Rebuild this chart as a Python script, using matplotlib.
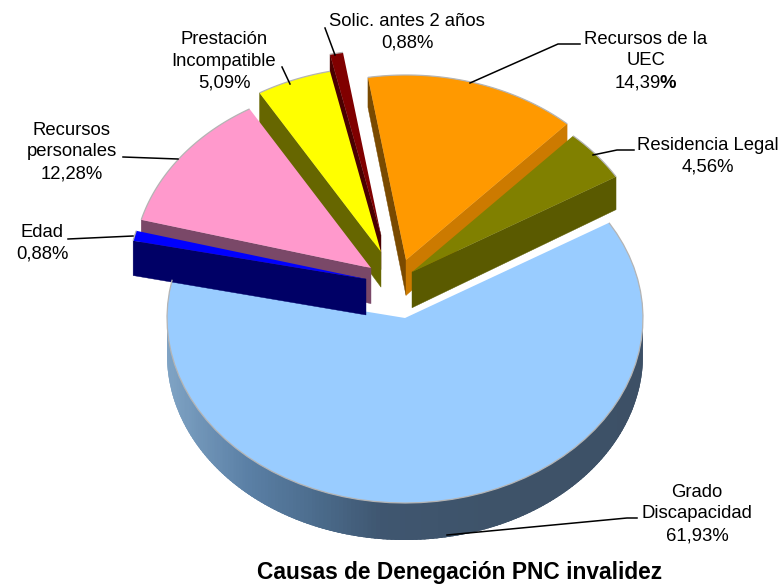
import numpy as np
import matplotlib
matplotlib.use('Agg')
import matplotlib.pyplot as plt
from matplotlib.colors import LinearSegmentedColormap

plt.rcParams['font.family'] = ['Liberation Sans', 'DejaVu Sans']

# data, clockwise from the top of the pie
names = ['Recursos de la\nUEC', 'Residencia Legal', 'Grado\nDiscapacidad', 'Edad',
         'Recursos\npersonales', 'Prestación\nIncompatible', 'Solic. antes 2 años']
values = [14.39, 4.56, 61.93, 0.88, 12.28, 5.09, 0.88]
value_labels = ['14,39', '4,56%', '61,93%', '0,88%', '12,28%', '5,09%', '0,88%']

# look of each slice
top_colors = ['#FF9900', '#808000', '#99CCFF', '#0000FF', '#FF99CC', '#FFFF00', '#800000']
start_face = ['#7A4A00', None, None, '#000066', '#7A4868', '#666600', '#4A0000']
end_face = ['#CC7A00', '#5A5A00', None, None, None, None, None]
apex_x = [406, 412, 405, 366, 371, 381, 381]
apex_y = [260, 272, 318, 279, 268, 252, 235]
draw_order = [2, 0, 1, 6, 5, 4, 3]

# label centres and leader lines
label_x = [646, 708, 697, 42, 72, 224, 407]
label_y = [60, 156, 514, 243, 152, 61, 32]
leaders = [([470, 558, 580], [83, 44, 44]),
           ([593, 617, 634], [155, 150, 150]),
           ([447, 627, 637], [535, 518, 518]),
           ([68, 133], [239, 236]),
           ([123, 178], [157, 159]),
           ([282, 290], [67, 84]),
           ([325, 335], [28, 55])]

start_angle = -9.2
rx, ry = 238, 185


def depth(y):
    # slices further back look a little thinner
    return np.minimum(37, 30 + (np.asarray(y) - 80) * 0.03)


def rim(i, a0, a1, n=60):
    t = np.radians(np.linspace(a0, a1, n))
    return apex_x[i] + rx * np.sin(t), apex_y[i] - ry * np.cos(t)


fig = plt.figure(figsize=(7.8, 5.85), dpi=100)
ax = fig.add_axes([0, 0, 1, 1])
ax.set_xlim(0, 780)
ax.set_ylim(585, 0)
ax.axis('off')

edges = start_angle + np.concatenate([[0], np.cumsum(values)]) * 360 / sum(values)
side_cmap = LinearSegmentedColormap.from_list(
    'side', [(0, '#7FA3C4'), (0.175, '#5A7FA5'), (0.33, '#4A6A8A'), (0.455, '#3F5670'),
             (0.7, '#3E5369'), (1, '#3D5066')])


def cut_face(i, angle, color):
    x, y = rim(i, angle, angle, 1)
    px = [apex_x[i], x[0], x[0], apex_x[i]]
    py = [apex_y[i], y[0], y[0] + depth(y[0]), apex_y[i] + depth(apex_y[i])]
    ax.fill(px, py, color=color, lw=0.3)


for i in draw_order:
    a0, a1 = edges[i], edges[i + 1]
    if start_face[i]:
        cut_face(i, a0, start_face[i])
    if end_face[i]:
        cut_face(i, a1, end_face[i])
    # outer wall, only where the rim faces the viewer; painted from the right
    # with each strip running under the next one so no seams show
    lo, hi = max(a0, 90), min(a1, 270)
    if hi > lo:
        steps = np.linspace(lo, hi, 181)
        for s0, s1 in zip(steps[:-1], steps[1:]):
            x, y = rim(i, s0, min(s1 + 1.5, hi), 6)
            px = np.concatenate([x, x[::-1]])
            py = np.concatenate([y, (y + depth(y))[::-1]])
            shade = side_cmap((rim(i, s0, s0, 1)[0][0] - (apex_x[i] - rx)) / (2 * rx))
            ax.fill(px, py, color=shade, lw=0)
    x, y = rim(i, a0, a1)
    ax.fill(np.r_[apex_x[i], x], np.r_[apex_y[i], y], color=top_colors[i], lw=0)
    ax.plot(x, y, color='#B4B4B4', lw=0.9, solid_capstyle='butt')

for lx, ly in leaders:
    ax.plot(lx, ly, color='black', lw=1.1, solid_joinstyle='miter')

for i in range(len(values)):
    if i == 0:
        continue
    ax.text(label_x[i], label_y[i], names[i] + '\n' + value_labels[i], ha='center', va='center',
            fontsize=13.3, linespacing=1.35, color='black')

# first label has a bold percent sign
ax.text(label_x[0], 50, names[0], ha='center', va='center', fontsize=13.3, linespacing=1.35)
ax.text(661, 83, value_labels[0], ha='right', va='center', fontsize=13.3)
ax.text(660, 83, '%', ha='left', va='center', fontsize=13.3, fontweight='bold')

ax.text(459.5, 573, 'Causas de Denegación PNC invalidez', ha='center', va='center',
        fontsize=16.4, fontweight='bold')

fig.savefig('out.png', dpi=100)
